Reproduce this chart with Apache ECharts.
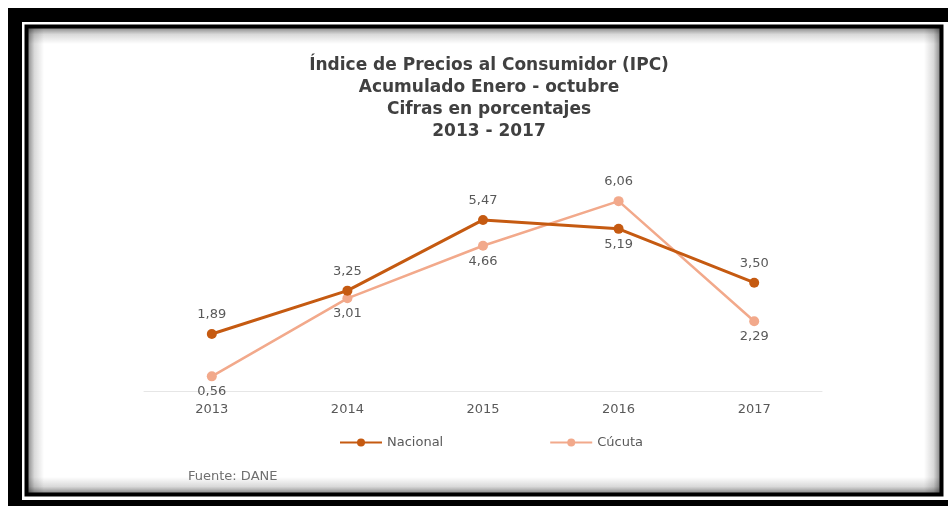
<!DOCTYPE html>
<html>
<head>
<meta charset="utf-8">
<script src="https://cdn.jsdelivr.net/npm/echarts@6/dist/echarts.min.js"></script>
<style>
  html, body { margin: 0; padding: 0; background: #fff; }
  #chart { width: 948px; height: 508px; }
</style>
</head>
<body>
<div id="chart"></div>
<script>
// datos IPC acumulado enero - octubre
const years = ['2013', '2014', '2015', '2016', '2017']
const nacional = [1.89, 3.25, 5.47, 5.19, 3.50]
const cucuta = [0.56, 3.01, 4.66, 6.06, 2.29]
// posicion de la etiqueta por punto
const nacionalLabelPos = ['top', 'top', 'top', 'bottom', 'top']
const cucutaLabelPos = ['bottom', 'bottom', 'bottom', 'top', 'bottom']

const titleLines = [
  'Índice de Precios al Consumidor (IPC)',
  'Acumulado Enero - octubre',
  'Cifras en porcentajes',
  '2013 - 2017'
]

const chart = echarts.init(document.getElementById('chart'), null, { renderer: 'canvas' })

const fmt = v => v.toFixed(2).replace('.', ',')

function pts(values, positions) {
  return values.map((v, i) => ({
    value: v,
    label: {
      position: positions[i],
      distance: positions[i] === 'bottom' ? 4 : 8
    }
  }))
}

// sombra interior del marco (degradados)
function edge(x, y, w, h, dir) {
  const g = { top: [0, 0, 0, 1], bottom: [0, 1, 0, 0], left: [0, 0, 1, 0], right: [1, 0, 0, 0] }[dir]
  return {
    type: 'rect', silent: true, z: -5,
    shape: { x, y, width: w, height: h },
    style: {
      fill: new echarts.graphic.LinearGradient(g[0], g[1], g[2], g[3], [
        { offset: 0, color: 'rgba(0,0,0,0.45)' },
        { offset: 0.4, color: 'rgba(0,0,0,0.15)' },
        { offset: 1, color: 'rgba(0,0,0,0)' }
      ])
    }
  }
}

const labelStyle = {
  show: true,
  color: '#595959', fontSize: 13, fontFamily: 'DejaVu Sans',
  formatter: p => fmt(p.value)
}

chart.setOption({
  backgroundColor: '#fff',
  animation: false,
  title: {
    text: titleLines.join('\n'),
    left: 484,
    textAlign: 'center',
    top: 50,
    textStyle: {
      fontFamily: 'DejaVu Sans',
      fontWeight: 'bold',
      fontSize: 17,
      lineHeight: 22,
      color: '#404040'
    }
  },
  graphic: [
    { type: 'rect', silent: true, z: -10, shape: { x: 8, y: 8, width: 940, height: 498 }, style: { fill: '#000' } },
    { type: 'rect', silent: true, z: -9, shape: { x: 22, y: 22, width: 926, height: 478 }, style: { fill: '#fff' } },
    { type: 'rect', silent: true, z: -8, shape: { x: 26.5, y: 26.5, width: 915, height: 468 }, style: { fill: '#fff', stroke: '#000', lineWidth: 4 } },
    edge(28, 28, 912, 16, 'top'),
    edge(28, 477, 912, 16, 'bottom'),
    edge(28, 28, 16, 465, 'left'),
    edge(924, 28, 16, 465, 'right'),
    {
      type: 'text', left: 188, top: 470,
      style: { text: 'Fuente: DANE', fill: '#6f6f6f', font: '13px "DejaVu Sans"' }
    }
  ],
  legend: {
    bottom: 54,
    left: 334,
    itemGap: 106,
    itemWidth: 42,
    itemHeight: 10,
    textStyle: { color: '#595959', fontSize: 13, fontFamily: 'DejaVu Sans' },
    data: ['Nacional', 'Cúcuta']
  },
  grid: { left: 144, right: 126, top: 168, bottom: 117 },
  xAxis: {
    type: 'category',
    data: years,
    boundaryGap: true,
    axisTick: { show: false },
    axisLine: { lineStyle: { color: '#e6e6e6', width: 1 } },
    axisLabel: { color: '#595959', fontSize: 13, margin: 12, fontFamily: 'DejaVu Sans' }
  },
  yAxis: {
    type: 'value',
    min: 0.1,
    max: 7.1,
    show: false,
    splitLine: { show: false }
  },
  series: [
    {
      name: 'Nacional',
      type: 'line',
      data: pts(nacional, nacionalLabelPos),
      color: '#c55a11',
      symbol: 'circle',
      symbolSize: 10,
      lineStyle: { width: 3, color: '#c55a11' },
      itemStyle: { color: '#c55a11' },
      label: labelStyle,
      z: 3
    },
    {
      name: 'Cúcuta',
      type: 'line',
      data: pts(cucuta, cucutaLabelPos),
      color: '#f2a98b',
      symbol: 'circle',
      symbolSize: 10,
      lineStyle: { width: 2.5, color: '#f2a98b' },
      itemStyle: { color: '#f2a98b' },
      label: labelStyle,
      z: 2
    }
  ]
})
</script>
</body>
</html>
